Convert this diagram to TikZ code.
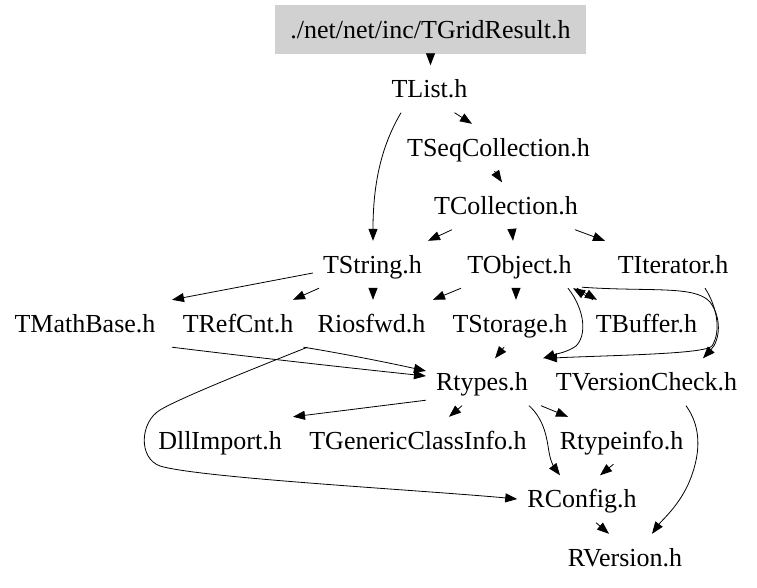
\documentclass[tikz,border=0pt]{standalone}
\usepackage{fontspec}
\setmainfont{Liberation Serif}
\usetikzlibrary{arrows.meta}
\tikzset{
  hdr/.style={font=\fontsize{26}{30}\selectfont, text height=17pt, text depth=0pt,
    inner xsep=10pt, inner ysep=15pt, anchor=base},
  e/.style={draw, line width=0.8pt, -{Triangle[length=12pt,width=9pt]}},
}
\begin{document}
\begin{tikzpicture}[x=1pt,y=-1pt]
\useasboundingbox (0,0) rectangle (757,587);
\node[fill=black!18, font=\fontsize{26}{30}\selectfont, text height=17pt, text depth=0pt,
  minimum width=311pt, minimum height=49pt, inner sep=0pt] (TGrid) at (430.5,29.5) {./net/net/inc/TGridResult.h};
\node[hdr] (TList) at (429.5,97.5) {TList.h};
\node[hdr] (TSeq) at (498.5,156) {TSeqCollection.h};
\node[hdr] (TColl) at (506,214.5) {TCollection.h};
\node[hdr] (TString) at (372.5,273) {TString.h};
\node[hdr] (TObject) at (519.5,273) {TObject.h};
\node[hdr] (TIter) at (673,273) {TIterator.h};
\node[hdr] (TMath) at (85,332) {TMathBase.h};
\node[hdr] (TRef) at (238,332) {TRefCnt.h};
\node[hdr] (Rios) at (371.5,332) {Riosfwd.h};
\node[hdr] (TStor) at (510,332) {TStorage.h};
\node[hdr] (TBuf) at (646.5,332) {TBuffer.h};
\node[hdr] (Rtypes) at (482,390.5) {Rtypes.h};
\node[hdr] (TVer) at (646.5,390.5) {TVersionCheck.h};
\node[hdr] (Dll) at (220,449) {DllImport.h};
\node[hdr] (TGen) at (418,449) {TGenericClassInfo.h};
\node[hdr] (Rti) at (621.5,449) {Rtypeinfo.h};
\node[hdr] (RConf) at (582,507.5) {RConfig.h};
\node[hdr] (RVer) at (625,566) {RVersion.h};

\draw[e] (TGrid.south) -- ([xshift=1pt]TList.north);
\draw[e] ([xshift=25pt]TList.south) -- ([xshift=-26.5pt]TSeq.north);
\draw[e] ([xshift=-28.5pt]TList.south) .. controls (385,140) and (373,175) .. ([xshift=0.5pt]TString.north);
\draw[e] ([xshift=-4pt]TSeq.south) -- ([xshift=-4pt]TColl.north);
\draw[e] ([xshift=-54pt]TColl.south) -- ([xshift=55.5pt]TString.north);
\draw[e] ([xshift=6pt]TColl.south) -- ([xshift=-6.5pt]TObject.north);
\draw[e] ([xshift=69pt]TColl.south) -- ([xshift=-68pt]TIter.north);
\draw[e] ([yshift=-8.5pt]TString.west) -- ([xshift=87pt]TMath.north);
\draw[e] ([xshift=-53.5pt]TString.south) -- ([xshift=55pt]TRef.north);
\draw[e] ([xshift=0.5pt]TString.south) -- ([xshift=1.5pt]Rios.north);
\draw[e] ([xshift=-58.5pt]TObject.south) -- ([xshift=61.5pt]Rios.north);
\draw[e] ([xshift=-3.5pt]TObject.south) -- ([xshift=6pt]TStor.north);
\draw[e] ([xshift=57.5pt]TObject.south) -- ([xshift=-49.5pt]TBuf.north);
\draw[e] ([xshift=-53.5pt]TBuf.north) -- ([xshift=53.5pt]TObject.south);
\draw[e] ([xshift=48.5pt]TObject.south) .. controls (585,310) and (587,335) .. (576,346)
  .. controls (568,352) and (556,354) .. ([xshift=61pt]Rtypes.north);
\draw[e] ([yshift=1pt]TObject.south east) .. controls (650,292) and (695,285) .. (710,302)
  .. controls (722,318) and (720,340) .. ([xshift=56.5pt]TVer.north);
\draw[e] ([xshift=32pt]TIter.south) .. controls (716,305) and (722,330) .. (712,346)
  .. controls (705,354) and (620,355) .. ([xshift=63pt]Rtypes.north);
\draw[e] ([xshift=-6pt]TStor.south) -- ([xshift=13pt]Rtypes.north);
\draw[e] ([xshift=87pt]TMath.south) .. controls (260,358) and (350,368) .. ([yshift=6pt]Rtypes.west);
\draw[e] (TRef.south east) .. controls (340,353) and (390,363) .. ([yshift=11pt]Rtypes.west);
\draw[e] (Rios.south west) .. controls (250,370) and (180,398) .. (160,410)
  .. controls (140,422) and (138,458) .. (160,466)
  .. controls (200,478) and (420,490) .. (RConf.west);
\draw[e] ([yshift=5.5pt]Rtypes.south west) -- ([xshift=73pt]Dll.north);
\draw[e] ([xshift=-20pt]Rtypes.south) -- ([xshift=31pt]TGen.north);
\draw[e] ([xshift=59pt]Rtypes.south) -- ([xshift=-53.5pt]Rti.north);
\draw[e] ([xshift=47pt]Rtypes.south) .. controls (545,420) and (547,440) .. (549,452)
  .. controls (551,464) and (556,470) .. ([xshift=-22pt]RConf.north);
\draw[e] ([xshift=-8pt]Rti.south) -- ([xshift=18pt]RConf.north);
\draw[e] ([xshift=14pt]RConf.south) -- ([xshift=-16pt]RVer.north);
\draw[e] ([xshift=39.5pt]TVer.south) .. controls (700,425) and (702,450) .. (690,480)
  .. controls (680,505) and (662,520) .. ([xshift=27pt]RVer.north);
\end{tikzpicture}
\end{document}
